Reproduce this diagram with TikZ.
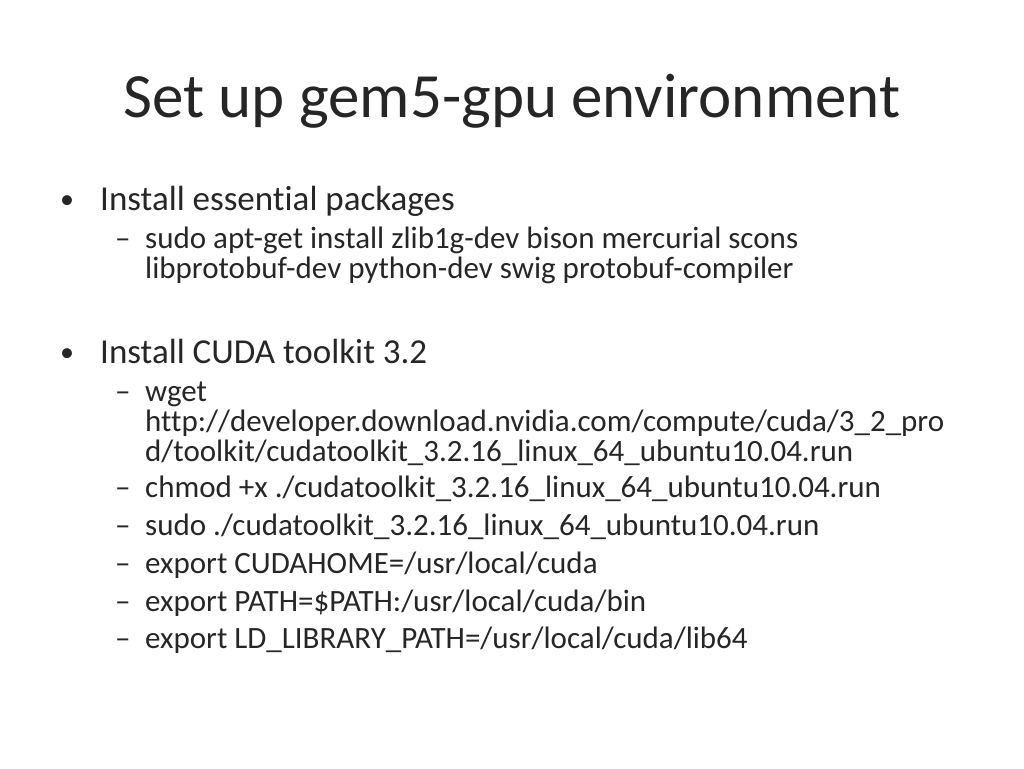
\documentclass[tikz,border=0pt]{standalone}
\usepackage{fontspec}
\setmainfont{Carlito}[Ligatures={NoCommon}]
\tikzset{
x=1pt, y=-1pt,
every node/.style={anchor=base west, inner sep=0pt, text=black!85}, % all texts sit on their baseline
title/.style={font=\fontsize{63}{70}\selectfont},
lvlone/.style={font=\fontsize{35}{40}\selectfont},
lvltwo/.style={font=\fontsize{31}{36}\selectfont, align=left},
}
\begin{document}
\begin{tikzpicture}
\useasboundingbox (0,0) rectangle (1024,768);
\node[title, anchor=base] (title) at (512,117) {Set up gem5-gpu environment};

\node[lvlone, font=\fontsize{28}{30}\selectfont] (b1) at (60,208) {•};
\node[lvlone] (pkgs) at (100,210) {Install essential packages};
\node[lvltwo] (d1) at (115,248) {–};
\node[lvltwo] (apt) at (145,248) {sudo apt-get install zlib1g-dev bison mercurial scons};
\node[lvltwo] (apt2) at (145,278) {libprotobuf-dev python-dev swig protobuf-compiler};

\node[lvlone, font=\fontsize{28}{30}\selectfont] (b2) at (60,361) {•};
\node[lvlone] (cuda) at (100,363) {Install CUDA toolkit 3.2};
\node[lvltwo] (d2) at (115,401) {–};
\node[lvltwo] (wget) at (145,401) {wget};
\node[lvltwo] (url) at (145,431) {http://developer.download.nvidia.com/compute/cuda/3\_2\_pro};
\node[lvltwo] (url2) at (145,461) {d/toolkit/cudatoolkit\_3.2.16\_linux\_64\_ubuntu10.04.run};
\node[lvltwo] (d3) at (115,497) {–};
\node[lvltwo] (chmod) at (145,497) {chmod +x ./cudatoolkit\_3.2.16\_linux\_64\_ubuntu10.04.run};
\node[lvltwo] (d4) at (115,535) {–};
\node[lvltwo] (sudo) at (145,535) {sudo ./cudatoolkit\_3.2.16\_linux\_64\_ubuntu10.04.run};
\node[lvltwo] (d5) at (115,573) {–};
\node[lvltwo] (home) at (145,573) {export CUDAHOME=/usr/local/cuda};
\node[lvltwo] (d6) at (115,611) {–};
\node[lvltwo] (path) at (145,611) {export PATH=\$PATH:/usr/local/cuda/bin};
\node[lvltwo] (d7) at (115,648) {–};
\node[lvltwo] (ld) at (145,648) {export LD\_LIBRARY\_PATH=/usr/local/cuda/lib64};
\end{tikzpicture}
\end{document}
